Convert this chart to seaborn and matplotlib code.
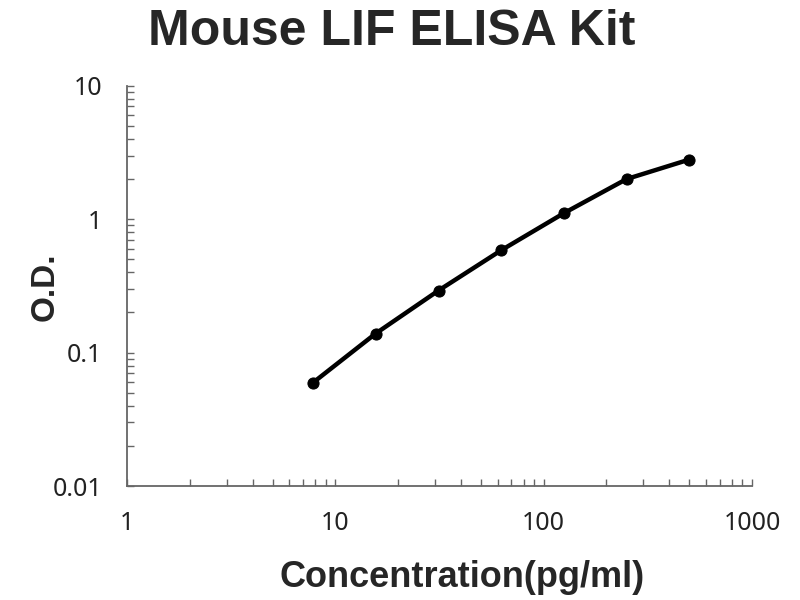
import numpy as np
import pandas as pd
import matplotlib
matplotlib.use("Agg")
import matplotlib.pyplot as plt
import matplotlib.ticker as mticker
import seaborn as sns

# data
concentration = [7.8, 15.6, 31.25, 62.5, 125, 250, 500]
od = [0.0595, 0.139, 0.292, 0.585, 1.11, 2.0, 2.8]
x_ticks = [1, 10, 100, 1000]
x_tick_labels = ["1", "10", "100", "1000"]
y_ticks = [0.01, 0.1, 1, 10]
y_tick_labels = ["0.01", "0.1", "1", "10"]

df = pd.DataFrame({"conc": concentration, "od": od})

sns.set_theme(style="ticks")
plt.rcParams["font.family"] = ["Liberation Sans", "DejaVu Sans"]

fig = plt.figure(figsize=(8, 6), dpi=100)
ax = fig.add_axes([0.159, 0.19, 0.781, 0.667])

sns.lineplot(data=df, x="conc", y="od", color="black", linewidth=3.2,
             marker="o", markersize=8, markeredgecolor="black", ax=ax)

ax.set_xscale("log")
ax.set_yscale("log")
ax.set_xlim(1, 1000)
ax.set_ylim(0.01, 10)
ax.set_xlabel("")
ax.set_ylabel("")

ax.xaxis.set_major_locator(mticker.FixedLocator(x_ticks))
ax.xaxis.set_major_formatter(mticker.FixedFormatter(x_tick_labels))
ax.yaxis.set_major_locator(mticker.FixedLocator(y_ticks))
ax.yaxis.set_major_formatter(mticker.FixedFormatter(y_tick_labels))
ax.xaxis.set_minor_locator(mticker.LogLocator(base=10, subs=np.arange(2, 10)))
ax.yaxis.set_minor_locator(mticker.LogLocator(base=10, subs=np.arange(2, 10)))
ax.xaxis.set_minor_formatter(mticker.NullFormatter())
ax.yaxis.set_minor_formatter(mticker.NullFormatter())

ax.tick_params(which="both", direction="in", length=5, width=1, color="#666666")
ax.tick_params(axis="x", which="major", labelsize=18, pad=18)
ax.tick_params(axis="y", which="major", labelsize=18, pad=18)
for lab in ax.get_xticklabels() + ax.get_yticklabels():
    lab.set_family(["Noto Sans", "DejaVu Sans"])
    lab.set_color("#222222")

sns.despine(ax=ax)
for side in ["left", "bottom"]:
    ax.spines[side].set_color("#666666")
    ax.spines[side].set_linewidth(1.3)

# axis titles placed directly in figure coordinates
fig.text(0.577, 0.037, "Concentration(pg/ml)", ha="center", va="center",
         fontsize=26, fontweight="bold")
fig.text(0.057, 0.522, "O.D.", ha="center", va="center", rotation=90,
         fontsize=24, fontweight="bold")
fig.text(0.49, 0.947, "Mouse LIF ELISA Kit", ha="center", va="center",
         fontsize=36, fontweight="bold")

fig.savefig("out.png", dpi=100)
